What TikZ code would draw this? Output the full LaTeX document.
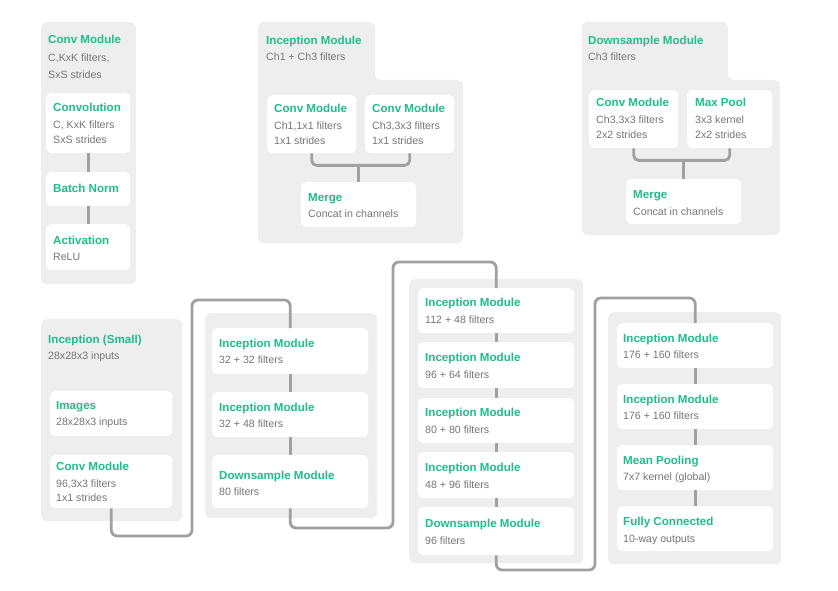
\documentclass[tikz,border=0pt]{standalone}
\usepackage{fontspec}
\setmainfont{Liberation Sans}
\definecolor{grn}{HTML}{1EBE8C}
\definecolor{pnl}{HTML}{EEEEEE}
\definecolor{lin}{HTML}{A0A0A0}
\definecolor{txg}{HTML}{767676}
\tikzset{
  panel/.style={fill=pnl, draw=none, rounded corners=6pt, inner sep=0pt, anchor=north west},
  wbox/.style={fill=white, draw=none, rounded corners=5pt, inner sep=0pt, anchor=north west},
  conn/.style={draw=lin, line width=2.8pt, rounded corners=6pt},
  ttlst/.style={anchor=base west, inner sep=0pt, text=grn, font=\fontsize{11.6}{14}\selectfont\bfseries},
  subst/.style={anchor=base west, inner sep=0pt, text=txg, font=\fontsize{10.6}{13}\selectfont},
}
\newcommand\pn[5]{\node[panel, minimum width=#4pt, minimum height=#5pt] (#1) at (#2,#3) {};}
\newcommand\bx[5]{\node[wbox, minimum width=#4pt, minimum height=#5pt] (#1) at (#2,#3) {};}
\newcommand\ttl[4]{\node[ttlst] (#1) at (#2,#3) {#4};}
\newcommand\sbt[4]{\node[subst] (#1) at (#2,#3) {#4};}
\begin{document}
\begin{tikzpicture}[x=1pt,y=-1pt]
\useasboundingbox[fill=white] (0,0) rectangle (838,591);

% ---------- panels ----------
\pn{pA}{41}{22}{95}{262}
\fill[pnl, rounded corners=6pt] (258,22) -- (375,22) -- (375,80) -- (463,80) -- (463,243) -- (258,243) -- cycle;
\fill[pnl, rounded corners=6pt] (582,22) -- (728,22) -- (728,80) -- (780,80) -- (780,235) -- (582,235) -- cycle;
\pn{pD}{41}{319}{141}{202}
\pn{pE}{205}{313}{172}{205}
\pn{pF}{409}{279}{174}{284}
\pn{pG}{608}{312}{173}{252}

% ---------- boxes ----------
\bx{aconv}{46}{93}{84}{60}
\bx{abn}{46}{172}{84}{34}
\bx{aact}{46}{224}{84}{46}

\bx{bc1}{267}{95}{89}{58}
\bx{bc2}{365}{95}{89}{58}
\bx{bm}{301}{182}{115}{45}

\bx{cc1}{589}{90}{89}{58}
\bx{cc2}{687}{90}{85}{58}
\bx{cm}{626}{179}{115}{45}

\bx{dimg}{50}{391}{122}{45}
\bx{dconv}{50}{455}{122}{53}

\bx{e1}{212}{328}{156}{46}
\bx{e2}{212}{392}{156}{45}
\bx{e3}{212}{455}{156}{53}

\bx{f1}{418}{288}{156}{45}
\bx{f2}{418}{342}{156}{46}
\bx{f3}{418}{398}{156}{45}
\bx{f4}{418}{452}{156}{46}
\bx{f5}{418}{507}{156}{48}

\bx{g1}{617}{323}{156}{45}
\bx{g2}{617}{384}{156}{45}
\bx{g3}{617}{445}{156}{45}
\bx{g4}{617}{506}{156}{45}

% ---------- connectors ----------
\draw[conn] (aconv.south) -- (abn.north);
\draw[conn] (abn.south) -- (aact.north);

\coordinate (bf) at ([yshift=-12pt]bc1.south);
\draw[conn, rounded corners=5pt] (bc1.south) -- (bf) -| (bc2.south);
\draw[conn] (bm.north) -- (bm.north |- bf);

\coordinate (cf) at ([yshift=-12pt]cc1.south);
\draw[conn, rounded corners=5pt] (cc1.south) -- (cf) -| (cc2.south);
\draw[conn] (cm.north) -- (cm.north |- cf);

\draw[conn] (e1.south) -- (e2.north);
\draw[conn] (e2.south) -- (e3.north);
\draw[conn] (f1.south) -- (f2.north);
\draw[conn] (f2.south) -- (f3.north);
\draw[conn] (f3.south) -- (f4.north);
\draw[conn] (f4.south) -- (f5.north);
\draw[conn] (g1.south) -- (g2.north);
\draw[conn] (g2.south) -- (g3.north);
\draw[conn] (g3.south) -- (g4.north);

\coordinate (k1) at (192,536);
\coordinate (k2) at (192,300);
\draw[conn] (dconv.south) |- (k1) -- (k2) -| (e1.north);
\coordinate (k3) at (393,528);
\coordinate (k4) at (393,262);
\draw[conn] (e3.south) |- (k3) -- (k4) -| (f1.north);
\coordinate (k5) at (595,570);
\coordinate (k6) at (595,298);
\draw[conn] (f5.south) |- (k5) -- (k6) -| (g1.north);

% ---------- texts ----------
\ttl{tA}{48}{44}{Conv Module}
\sbt{sA1}{48}{62}{C,KxK filters,}
\sbt{sA2}{48}{79}{SxS strides}
\ttl{taconv}{53}{112}{Convolution}
\sbt{saconv1}{53}{129}{C, KxK filters}
\sbt{saconv2}{53}{144}{SxS strides}
\ttl{tabn}{53}{192}{Batch Norm}
\ttl{taact}{53}{244}{Activation}
\sbt{saact}{53}{260}{ReLU}

\ttl{tB}{266}{45}{Inception Module}
\sbt{sB}{266}{61}{Ch1 + Ch3 filters}
\ttl{tbc1}{274}{113}{Conv Module}
\sbt{sbc1a}{274}{130}{Ch1,1x1 filters}
\sbt{sbc1b}{274}{145}{1x1 strides}
\ttl{tbc2}{372}{113}{Conv Module}
\sbt{sbc2a}{372}{130}{Ch3,3x3 filters}
\sbt{sbc2b}{372}{145}{1x1 strides}
\ttl{tbm}{308}{201}{Merge}
\sbt{sbm}{308}{217}{Concat in channels}

\ttl{tC}{588}{45}{Downsample Module}
\sbt{sC}{588}{61}{Ch3 filters}
\ttl{tcc1}{596}{107}{Conv Module}
\sbt{scc1a}{596}{124}{Ch3,3x3 filters}
\sbt{scc1b}{596}{139}{2x2 strides}
\ttl{tcc2}{695}{107}{Max Pool}
\sbt{scc2a}{695}{124}{3x3 kernel}
\sbt{scc2b}{695}{139}{2x2 strides}
\ttl{tcm}{633}{198}{Merge}
\sbt{scm}{633}{215}{Concat in channels}

\ttl{tD}{48}{343}{Inception (Small)}
\sbt{sD}{48}{359}{28x28x3 inputs}
\ttl{tdimg}{56}{409}{Images}
\sbt{sdimg}{56}{425}{28x28x3 inputs}
\ttl{tdconv}{56}{470}{Conv Module}
\sbt{sdconv1}{56}{487}{96,3x3 filters}
\sbt{sdconv2}{56}{501}{1x1 strides}

\ttl{te1}{219}{347}{Inception Module}
\sbt{se1}{219}{363}{32 + 32 filters}
\ttl{te2}{219}{411}{Inception Module}
\sbt{se2}{219}{427}{32 + 48 filters}
\ttl{te3}{219}{479}{Downsample Module}
\sbt{se3}{219}{495}{80 filters}

\ttl{tf1}{425}{306}{Inception Module}
\sbt{sf1}{425}{323}{112 + 48 filters}
\ttl{tf2}{425}{361}{Inception Module}
\sbt{sf2}{425}{378}{96 + 64 filters}
\ttl{tf3}{425}{416}{Inception Module}
\sbt{sf3}{425}{433}{80 + 80 filters}
\ttl{tf4}{425}{471}{Inception Module}
\sbt{sf4}{425}{488}{48 + 96 filters}
\ttl{tf5}{425}{527}{Downsample Module}
\sbt{sf5}{425}{544}{96 filters}

\ttl{tg1}{623}{342}{Inception Module}
\sbt{sg1}{623}{358}{176 + 160 filters}
\ttl{tg2}{623}{403}{Inception Module}
\sbt{sg2}{623}{419}{176 + 160 filters}
\ttl{tg3}{623}{464}{Mean Pooling}
\sbt{sg3}{623}{480}{7x7 kernel (global)}
\ttl{tg4}{623}{525}{Fully Connected}
\sbt{sg4}{623}{542}{10-way outputs}
\end{tikzpicture}
\end{document}
